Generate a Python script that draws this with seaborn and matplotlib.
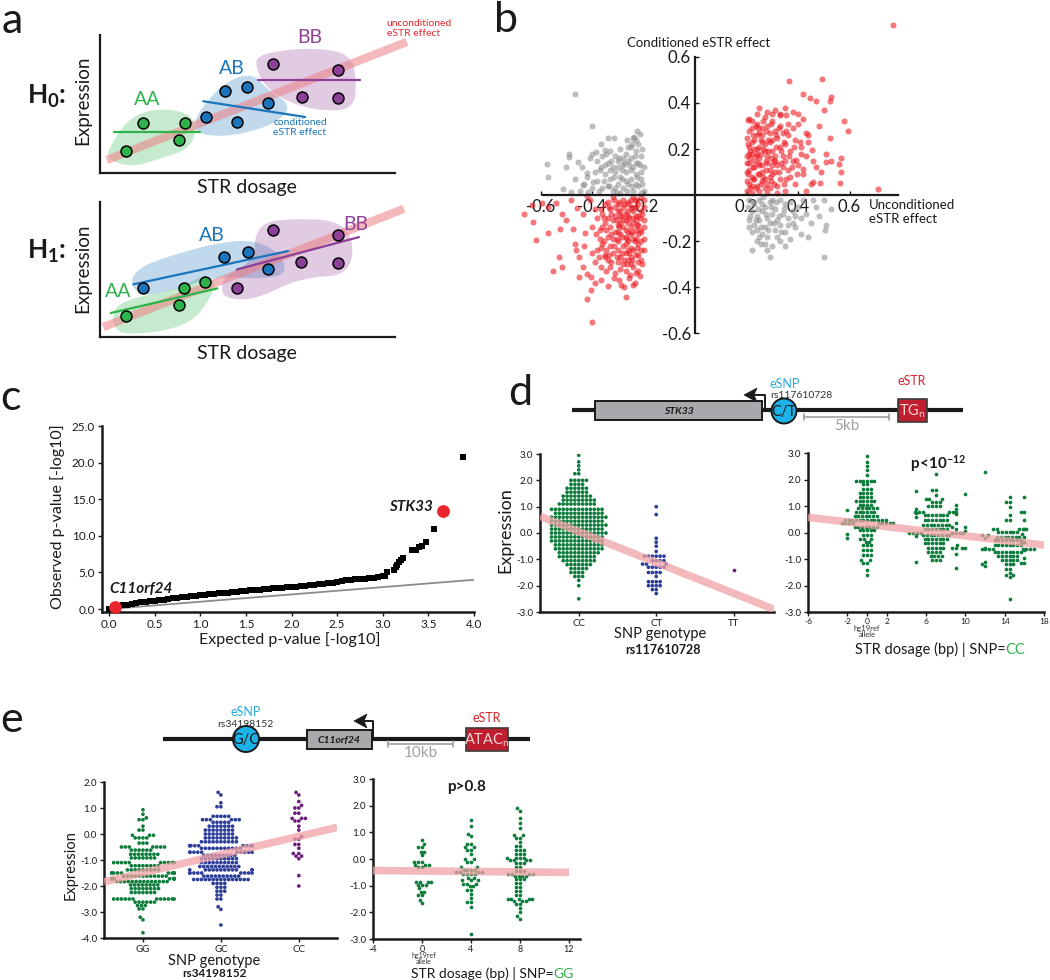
import warnings
warnings.filterwarnings("ignore")
import numpy as np
import pandas as pd
import matplotlib
matplotlib.use("Agg")
import matplotlib.pyplot as plt
import seaborn as sns
from matplotlib.patches import Polygon, Rectangle, Circle
from matplotlib.ticker import FormatStrFormatter
from matplotlib.offsetbox import TextArea, HPacker, AnnotationBbox

# ======================= DATA =======================
# ---- panel a (schematic, arbitrary 0-100 units) ----
h0_aa_x = [8.8, 14.7, 26.9, 28.8]; h0_aa_y = [16, 36, 24, 36]
h0_ab_x = [35.8, 42.4, 46.5, 49.9, 57.0]; h0_ab_y = [40.6, 59.4, 37.0, 62.3, 50.7]
h0_bb_x = [58.8, 68.4, 80.8, 80.8]; h0_bb_y = [79, 55, 74.6, 54]
h0_fit_aa = ([4.8, 33.9], [29.7, 29.7])
h0_fit_ab = ([35.0, 69.5], [52.0, 40.6])
h0_fit_bb = ([53.5, 88.0], [67.4, 67.4])
h0_fit_all = ([2.3, 104.0], [9.4, 95.0])

h1_aa_x = [8.8, 26.9, 28.5, 35.6]; h1_aa_y = [15.6, 23.7, 36.0, 40.7]
h1_ab_x = [14.7, 42.0, 50.0, 57.0]; h1_ab_y = [36.0, 59.0, 63.0, 50.0]
h1_bb_x = [46.5, 58.8, 68.0, 80.8, 80.8]; h1_bb_y = [36.0, 79.0, 55.6, 75.5, 54.8]
h1_fit_aa = ([3.7, 39.8], [17.8, 36.0])
h1_fit_ab = ([11.3, 63.8], [39.0, 63.7])
h1_fit_bb = ([46.4, 87.8], [50.0, 74.0])
h1_fit_all = ([1.1, 103.0], [7.4, 95.0])

# ---- panel b: unconditioned vs conditioned eSTR effect ----
b_red_right = [
    (0.21,0.33),(0.24,0.31),(0.27,0.34),(0.30,0.32),(0.33,0.35),(0.36,0.31),(0.22,0.29),(0.25,0.27),(0.28,0.30),(0.31,0.28),
    (0.34,0.27),(0.38,0.29),(0.20,0.25),(0.23,0.24),(0.26,0.26),(0.29,0.23),(0.32,0.25),(0.35,0.22),(0.39,0.24),(0.21,0.21),
    (0.24,0.20),(0.27,0.22),(0.30,0.19),(0.33,0.21),(0.37,0.19),(0.41,0.21),(0.20,0.17),(0.22,0.18),(0.25,0.16),(0.28,0.17),
    (0.31,0.15),(0.34,0.17),(0.38,0.15),(0.43,0.17),(0.21,0.14),(0.23,0.12),(0.26,0.13),(0.29,0.11),(0.32,0.13),(0.36,0.11),
    (0.40,0.13),(0.20,0.10),(0.22,0.08),(0.25,0.09),(0.27,0.07),(0.30,0.09),(0.33,0.07),(0.37,0.08),(0.21,0.05),(0.24,0.04),
    (0.26,0.06),(0.29,0.03),(0.32,0.04),(0.35,0.02),(0.39,0.05),(0.20,0.02),(0.22,0.01),(0.25,0.02),(0.28,0.01),(0.23,0.15),
    (0.24,0.26),(0.26,0.10),(0.22,0.23),(0.28,0.14),(0.21,0.11),(0.27,0.19),(0.23,0.07),(0.30,0.24),(0.25,0.21),(0.29,0.27),
    (0.22,0.32),(0.26,0.29),(0.31,0.17),(0.24,0.18),(0.20,0.14),(0.28,0.05),(0.34,0.12),(0.21,0.28),(0.27,0.03),(0.23,0.20),
    (0.25,0.13),(0.30,0.13),(0.22,0.04),(0.33,0.30),(0.26,0.23),(0.36,0.26),(0.40,0.31),(0.42,0.09),(0.45,0.05),(0.38,0.36),
    (0.31,0.37),(0.28,0.36),(0.35,0.38),(0.24,0.35),(0.21,0.18),(0.20,0.06),(0.29,0.08),(0.32,0.01),(0.35,0.15),(0.43,0.27),
    (0.47,0.12),(0.364,0.494),(0.494,0.503),(0.42,0.44),(0.445,0.42),(0.468,0.41),(0.53,0.426),(0.525,0.41),(0.50,0.37),
    (0.40,0.354),(0.25,0.38),(0.58,0.32),(0.596,0.28),(0.525,0.25),(0.455,0.195),(0.51,0.178),(0.565,0.16),(0.56,0.134),
    (0.527,0.15),(0.51,0.145),(0.568,0.10),(0.564,0.053),(0.49,0.10),(0.484,0.053),(0.71,0.026),(0.77,0.74),(0.44,0.26),
    (0.406,0.23),(0.43,0.02),(0.458,0.058),(0.42,0.115),(0.393,0.152),(0.354,0.347),(0.33,0.347),(0.30,0.354),(0.205,0.325),
    (0.205,0.09),(0.215,0.16),(0.225,0.26),(0.235,0.03),(0.245,0.14),(0.255,0.24),(0.265,0.08),(0.275,0.28),(0.285,0.19),
    (0.295,0.06),(0.305,0.15),(0.315,0.26),(0.325,0.10),(0.335,0.19),(0.345,0.05),(0.355,0.28),(0.365,0.17),(0.375,0.12),
    (0.385,0.21),(0.395,0.09),(0.205,0.22),(0.215,0.03),(0.225,0.12),(0.235,0.30),(0.245,0.09),(0.255,0.18),(0.265,0.32),
    (0.275,0.11),(0.285,0.24),(0.295,0.16),(0.305,0.05),(0.315,0.21),(0.325,0.29),(0.335,0.14),(0.345,0.23),(0.355,0.07),
    (0.215,0.19),(0.235,0.17),(0.255,0.05),(0.275,0.15),(0.295,0.31),(0.245,0.29),(0.265,0.20),(0.225,0.07),(0.31,0.10),
    (0.41,0.18),(0.44,0.23),(0.48,0.30),(0.46,0.15),(0.42,0.33),
]
b_grey_right = [
    (0.21,-0.02),(0.23,-0.04),(0.25,-0.02),(0.27,-0.05),(0.29,-0.03),(0.31,-0.06),(0.33,-0.02),(0.35,-0.04),(0.37,-0.03),(0.40,-0.05),
    (0.22,-0.07),(0.24,-0.09),(0.26,-0.07),(0.28,-0.10),(0.30,-0.08),(0.32,-0.11),(0.34,-0.08),(0.36,-0.10),(0.38,-0.07),(0.21,-0.11),
    (0.23,-0.13),(0.25,-0.11),(0.27,-0.14),(0.29,-0.12),(0.31,-0.15),(0.33,-0.13),(0.35,-0.16),(0.22,-0.16),(0.26,-0.17),(0.28,-0.18),
    (0.24,-0.15),(0.30,-0.02),(0.26,-0.04),(0.42,-0.02),(0.22,-0.24),(0.29,-0.27),(0.30,-0.22),(0.35,-0.22),(0.33,-0.20),(0.44,-0.18),
    (0.50,-0.27),(0.505,-0.15),(0.51,-0.13),(0.47,-0.05),(0.50,-0.02),(0.39,-0.14),(0.41,-0.10),(0.43,-0.08),(0.46,-0.02),(0.25,-0.18),
    (0.21,-0.14),(0.24,-0.20),(0.38,-0.12),(0.45,-0.12),(0.48,-0.09),(0.53,-0.06),(0.41,-0.17),(0.37,-0.19),(0.27,-0.21),
    (0.205,-0.05),(0.215,-0.09),(0.225,-0.03),(0.235,-0.11),(0.245,-0.06),(0.255,-0.14),(0.265,-0.01),(0.275,-0.08),
    (0.285,-0.15),(0.295,-0.05),(0.305,-0.12),(0.315,-0.03),(0.325,-0.09),(0.335,-0.16),(0.345,-0.06),(0.255,-0.21),
    (0.28,-0.24),(0.32,-0.18),(0.36,-0.13),(0.39,-0.09),
]
b_red_left = [
    (-0.20,-0.02),(-0.22,-0.04),(-0.24,-0.01),(-0.26,-0.03),(-0.28,-0.02),(-0.30,-0.04),(-0.32,-0.01),(-0.34,-0.03),(-0.21,-0.07),
    (-0.23,-0.09),(-0.25,-0.06),(-0.27,-0.08),(-0.29,-0.07),(-0.31,-0.09),(-0.33,-0.06),(-0.36,-0.08),(-0.20,-0.11),(-0.22,-0.13),
    (-0.24,-0.10),(-0.26,-0.12),(-0.28,-0.11),(-0.30,-0.13),(-0.32,-0.11),(-0.35,-0.12),(-0.38,-0.10),(-0.21,-0.16),(-0.23,-0.15),
    (-0.25,-0.17),(-0.27,-0.15),(-0.29,-0.17),(-0.31,-0.16),(-0.34,-0.18),(-0.37,-0.15),(-0.20,-0.19),(-0.22,-0.21),(-0.24,-0.19),
    (-0.26,-0.20),(-0.28,-0.22),(-0.30,-0.20),(-0.33,-0.22),(-0.36,-0.21),(-0.21,-0.24),(-0.23,-0.26),(-0.25,-0.23),(-0.27,-0.25),
    (-0.29,-0.27),(-0.32,-0.25),(-0.35,-0.26),(-0.22,-0.29),(-0.24,-0.31),(-0.26,-0.28),(-0.28,-0.30),(-0.30,-0.29),(-0.33,-0.31),
    (-0.23,-0.34),(-0.27,-0.33),(-0.31,-0.34),(-0.21,-0.01),(-0.23,-0.05),(-0.25,-0.14),(-0.27,-0.18),(-0.22,-0.17),(-0.24,-0.24),
    (-0.26,-0.09),(-0.29,-0.12),(-0.21,-0.20),(-0.23,-0.11),(-0.28,-0.05),(-0.30,-0.24),(-0.25,-0.02),(-0.20,-0.14),(-0.22,-0.26),
    (-0.26,-0.16),(-0.31,-0.05),(-0.33,-0.14),(-0.35,-0.04),(-0.37,-0.19),(-0.24,-0.07),(-0.27,-0.21),(-0.29,-0.09),(-0.20,-0.05),
    (-0.23,-0.19),(-0.25,-0.27),(-0.28,-0.14),(-0.32,-0.19),(-0.34,-0.10),(-0.21,-0.28),(-0.26,-0.24),(-0.30,-0.16),(-0.36,-0.14),
    (-0.39,-0.06),(-0.38,-0.24),(-0.40,-0.14),(-0.34,-0.28),(-0.29,-0.32),(-0.25,-0.30),(-0.22,-0.33),(-0.20,-0.24),(-0.41,-0.02),
    (-0.24,-0.12),(-0.27,-0.11),(-0.30,-0.07),(-0.22,-0.09),(-0.26,-0.04),
    (-0.665,-0.08),(-0.63,-0.116),(-0.616,-0.195),(-0.57,-0.163),(-0.55,-0.33),(-0.528,-0.267),(-0.515,-0.31),(-0.635,-0.043),
    (-0.596,-0.036),(-0.57,-0.05),(-0.54,-0.033),(-0.515,-0.08),(-0.50,-0.11),(-0.525,-0.145),(-0.476,-0.149),(-0.467,-0.21),
    (-0.463,-0.24),(-0.435,-0.31),(-0.42,-0.344),(-0.45,-0.354),(-0.406,-0.354),(-0.406,-0.41),(-0.42,-0.45),(-0.40,-0.55),
    (-0.387,-0.383),(-0.364,-0.368),(-0.338,-0.394),(-0.314,-0.36),(-0.286,-0.39),(-0.27,-0.44),(-0.254,-0.347),(-0.241,-0.39),
    (-0.48,-0.02),(-0.46,-0.058),(-0.435,-0.08),(-0.428,-0.166),(-0.40,-0.25),(-0.39,-0.29),(-0.364,-0.31),(-0.35,-0.267),(-0.42,-0.005),
    (-0.205,-0.08),(-0.215,-0.15),(-0.225,-0.23),(-0.235,-0.02),(-0.245,-0.16),(-0.255,-0.25),(-0.265,-0.07),(-0.275,-0.28),
    (-0.285,-0.18),(-0.295,-0.03),(-0.305,-0.11),(-0.315,-0.22),(-0.325,-0.08),(-0.335,-0.26),(-0.345,-0.15),(-0.355,-0.20),
    (-0.365,-0.06),(-0.375,-0.27),(-0.205,-0.30),(-0.215,-0.10),(-0.225,-0.02),(-0.235,-0.20),(-0.245,-0.28),(-0.255,-0.10),
    (-0.265,-0.19),(-0.275,-0.04),(-0.285,-0.25),(-0.295,-0.14),(-0.305,-0.27),(-0.315,-0.02),(-0.325,-0.17),(-0.335,-0.05),
    (-0.345,-0.24),(-0.355,-0.10),(-0.215,-0.35),(-0.235,-0.38),(-0.255,-0.36),(-0.275,-0.40),(-0.295,-0.37),(-0.225,-0.13),
    (-0.245,-0.05),(-0.265,-0.30),(-0.285,-0.09),(-0.305,-0.19),(-0.325,-0.29),(-0.345,-0.33),(-0.365,-0.23),(-0.385,-0.17),
    (-0.43,-0.22),(-0.45,-0.27),
]
b_grey_left = [
    (-0.20,0.02),(-0.22,0.04),(-0.24,0.02),(-0.26,0.05),(-0.28,0.03),(-0.30,0.05),(-0.32,0.02),(-0.34,0.04),(-0.36,0.03),(-0.21,0.07),
    (-0.23,0.09),(-0.25,0.07),(-0.27,0.10),(-0.29,0.08),(-0.31,0.10),(-0.33,0.07),(-0.35,0.09),(-0.38,0.06),(-0.20,0.12),(-0.22,0.14),
    (-0.24,0.12),(-0.26,0.15),(-0.28,0.13),(-0.30,0.15),(-0.32,0.12),(-0.34,0.14),(-0.37,0.11),(-0.21,0.17),(-0.23,0.19),(-0.25,0.16),
    (-0.27,0.18),(-0.29,0.20),(-0.31,0.17),(-0.33,0.19),(-0.22,0.22),(-0.26,0.21),(-0.24,0.25),(-0.21,0.01),(-0.25,0.11),(-0.29,0.01),
    (-0.33,0.11),(-0.23,0.05),(-0.27,0.06),(-0.31,0.03),(-0.35,0.13),(-0.39,0.10),(-0.40,0.03),(-0.21,0.10),(-0.28,0.16),(-0.36,0.17),
    (-0.42,0.08),(-0.44,0.12),(-0.38,0.15),(-0.30,0.12),(-0.23,0.14),
    (-0.466,0.44),(-0.40,0.30),(-0.574,0.137),(-0.57,0.077),(-0.49,0.18),(-0.49,0.166),(-0.50,0.12),(-0.454,0.145),(-0.467,0.072),
    (-0.512,0.025),(-0.48,0.014),(-0.40,0.18),(-0.383,0.188),(-0.364,0.224),(-0.34,0.246),(-0.314,0.246),(-0.237,0.253),(-0.212,0.264),
    (-0.228,0.238),(-0.247,0.21),(-0.35,0.195),(-0.42,0.094),(-0.396,0.058),(-0.448,0.02),(-0.415,0.014),(-0.435,0.043),
    (-0.205,0.05),(-0.215,0.13),(-0.225,0.08),(-0.235,0.17),(-0.245,0.04),(-0.255,0.13),(-0.265,0.02),(-0.275,0.14),
    (-0.285,0.07),(-0.295,0.16),(-0.305,0.01),(-0.315,0.08),(-0.325,0.15),(-0.335,0.04),(-0.345,0.18),(-0.355,0.06),
    (-0.365,0.12),(-0.375,0.02),(-0.205,0.20),(-0.225,0.28),(-0.245,0.22),(-0.265,0.24),(-0.285,0.11),(-0.41,0.16),(-0.43,0.05),
]

# ---- panel c: QQ plot ----
qq_expected = [0.00,0.05,0.10,0.15,0.20,0.25,0.30,0.35,0.40,0.45,0.50,0.55,0.60,0.65,0.70,0.75,0.80,0.85,0.90,0.95,
               1.00,1.05,1.10,1.15,1.20,1.25,1.30,1.35,1.40,1.45,1.50,1.55,1.60,1.65,1.70,1.75,1.80,1.85,1.90,1.95,
               2.00,2.05,2.10,2.15,2.20,2.25,2.30,2.35,2.40,2.45,2.50,2.55,2.60,2.65,2.70,2.75,2.80,2.85,2.90,2.95,
               3.00,3.03,3.05,3.12,3.14,3.16,3.18,3.20,3.22,3.32,3.36,3.40,3.43,3.47,3.56,3.88]
qq_observed = [0.05,0.25,0.40,0.52,0.62,0.72,0.82,0.92,1.00,1.08,1.15,1.22,1.30,1.38,1.45,1.52,1.60,1.67,1.75,1.82,
               1.90,1.96,2.02,2.08,2.14,2.20,2.26,2.32,2.38,2.44,2.50,2.56,2.62,2.67,2.72,2.77,2.82,2.87,2.92,2.97,
               3.02,3.07,3.13,3.19,3.25,3.32,3.39,3.46,3.53,3.62,3.72,3.82,3.92,4.00,4.05,4.10,4.15,4.22,4.30,4.38,
               4.45,4.50,5.00,5.40,5.70,6.05,6.40,6.70,7.00,8.00,8.00,8.50,8.60,9.20,10.90,20.70]
qq_highlight_genes = ["C11orf24", "STK33"]
qq_highlight_exp = [0.07, 3.66]
qq_highlight_obs = [0.30, 13.4]

# ---- panel d: STK33 ----
d_genotypes = ["CC", "CT", "TT"]
d_cc_levels = [2.95,2.7,2.55,2.4,2.25,2.0,1.85,1.7,1.55,1.4,1.25,1.1,0.9,0.75,0.6,0.45,0.3,0.15,0.0,-0.15,
               -0.3,-0.45,-0.6,-0.75,-0.9,-1.05,-1.2,-1.35,-1.5,-1.65,-1.8,-2.0,-2.5]
d_cc_counts = [1,1,1,1,2,5,4,6,6,8,9,10,14,13,15,14,15,14,15,14,14,13,13,11,10,9,7,5,4,3,1,1,1]
d_ct_levels = [1.0,0.7,-0.2,-0.35,-0.5,-0.7,-0.88,-1.05,-1.18,-1.3,-1.5,-1.65,-1.85,-2.0,-2.15,-2.3]
d_ct_counts = [1,1,1,1,1,1,6,4,3,5,4,1,4,4,2,1]
d_tt_levels = [-1.4]
d_tt_counts = [1]
d_snp_fit = [0.05, -1.17]          # intercept at CC, slope per genotype step

d_str_groups = [-2, 0, 5, 7, 9, 10, 12, 14.5, 16]
d_str_levels = [
    [0.85, -0.07, -0.22],
    [2.9,2.65,2.5,2.35,2.18,1.96,1.82,1.63,1.48,1.33,1.19,1.04,0.91,0.78,0.62,0.49,0.34,0.22,0.09,-0.08,
     -0.23,-0.35,-0.48,-0.65,-0.86,-1.05,-1.15,-1.4,-1.6],
    [1.55, 0.9, 0.75, 0.6, -0.15, -1.1],
    [2.2,1.62,1.42,1.25,1.16,1.0,0.78,0.66,0.49,0.28,0.15,-0.01,-0.1,-0.23,-0.39,-0.57,-0.73,-0.9,-1.03],
    [1.05,0.9,0.7,0.37,0.19,0.15,-0.48,-0.6,-0.8,-1.35],
    [1.44, 0.19, 0.05, -0.57],
    [2.3, -0.1, -0.2, -0.6, -1.1, -1.2, -1.25],
    [1.35,1.16,0.97,0.66,0.47,0.15,0.03,-0.16,-0.29,-0.48,-0.61,-0.73,-0.9,-1.05,-1.2,-1.37,-1.53,-1.62,-1.68,-2.5],
    [1.35,0.78,0.47,0.15,-0.04,-0.16,-0.35,-0.67,-0.97,-1.14],
]
d_str_counts = [
    [1,1,1],
    [1,1,1,1,1,6,2,3,4,4,6,4,6,6,7,12,9,7,5,3,3,2,3,3,3,2,2,1,1],
    [1,1,1,1,1,1],
    [1,2,1,3,3,4,6,7,7,8,7,8,8,7,6,5,4,4,3],
    [1,1,1,1,1,1,1,2,1,1],
    [1,1,1,2],
    [1,2,1,1,1,1,1],
    [1,2,1,1,2,5,6,7,8,8,8,8,6,5,3,2,1,2,1,1],
    [1,2,1,1,1,1,2,1,1,2],
]
d_str_fit = [0.31, -0.0437]        # intercept at 0 bp, slope per bp
d_str_ticks = [-6, -2, 0, 2, 6, 10, 14, 18]

# ---- panel e: C11orf24 ----
e_genotypes = ["GG", "GC", "CC"]
e_gg_levels = [0.93,0.76,0.62,0.55,0.3,0.15,-0.05,-0.15,-0.35,-0.5,-0.62,-0.78,-0.92,-1.1,-1.22,-1.38,-1.5,-1.62,
               -1.72,-1.83,-1.96,-2.1,-2.25,-2.5,-2.62,-2.75,-2.88,-3.2,-3.3,-3.8]
e_gg_counts = [1,1,1,2,1,2,3,4,3,7,6,8,7,10,8,9,10,12,12,14,8,8,7,12,6,3,2,1,1,1]
e_gc_levels = [1.6,1.5,1.2,1.05,0.68,0.55,0.45,0.3,0.15,0.0,-0.15,-0.3,-0.45,-0.55,-0.7,-0.82,-0.95,-1.1,-1.25,
               -1.38,-1.5,-1.62,-1.75,-1.9,-2.05,-2.2,-2.35,-2.5,-2.8,-2.9,-3.5]
e_gc_counts = [1,1,1,2,5,6,5,7,8,8,9,10,10,11,10,9,10,10,11,12,9,10,15,4,3,3,2,2,1,1,1]
e_cc_levels = [1.6,1.5,1.25,1.1,1.0,0.8,0.6,0.5,0.3,0.15,-0.1,-0.2,-0.4,-0.55,-0.75,-0.85,-0.95,-1.6,-2.0]
e_cc_counts = [1,1,1,1,2,2,3,2,1,1,1,2,2,1,2,2,1,1,1]
e_snp_fit = [-1.49, 0.70]

e_str_groups = [0, 4, 8]
e_str_levels = [
    [0.71,0.56,0.44,0.28,0.15,-0.1,-0.22,-0.31,-0.85,-0.97,-1.1,-1.22,-1.35,-1.54,-1.66],
    [1.45,1.25,0.95,0.85,0.55,0.45,0.35,0.2,0.0,-0.1,-0.3,-0.4,-0.5,-0.58,-0.7,-0.8,-0.92,-1.02,-1.15,-1.3,
     -1.45,-1.6,-1.8,-2.8],
    [1.9,1.8,1.55,1.35,1.15,0.9,0.8,0.65,0.5,0.35,0.2,0.05,-0.05,-0.15,-0.3,-0.45,-0.55,-0.62,-0.75,-0.9,
     -1.05,-1.2,-1.35,-1.5,-1.58,-1.7,-1.85,-2.0,-2.15,-2.25],
]
e_str_counts = [
    [1,1,2,2,1,3,3,2,4,3,1,2,2,1,1],
    [1,1,1,1,2,2,2,1,2,2,2,4,4,4,2,3,3,2,2,1,1,2,1,1],
    [1,1,1,1,1,2,2,1,2,3,3,4,4,3,2,3,4,4,3,2,2,2,2,5,3,2,1,1,1,1],
]
e_str_fit = [-0.45, -0.0044]
e_str_fit_range = [-4, 12]
e_str_ticks = [-4, 0, 4, 8, 12]

# ======================= STYLE =======================
sns.set_theme(style="white")
plt.rcParams["font.family"] = ["Lato", "DejaVu Sans"]
plt.rcParams["axes.unicode_minus"] = False
plt.rcParams["mathtext.fontset"] = "custom"
plt.rcParams["mathtext.rm"] = "Lato"
plt.rcParams["mathtext.bf"] = "Lato:bold"
plt.rcParams["mathtext.it"] = "Lato:italic"

W, H = 1050, 980
fig = plt.figure(figsize=(W / 100, H / 100), dpi=100)
fig.patch.set_facecolor("white")

A_GREEN, A_BLUE, A_PURPLE, A_RED = "#2eb34b", "#1b75bc", "#8e3f98", "#ee7f83"
G_DOT, B_DOT, P_DOT = "#0e7d3b", "#2c3e98", "#6c1f7a"
FIT = "#f0a2a6"
INK = "#1a1a1a"


def px_axes(l, t, r, b):
    return fig.add_axes([l / W, 1 - b / H, (r - l) / W, (b - t) / H])


def ftext(x, y, s, **kw):
    return fig.text(x / W, 1 - y / H, s, **kw)


def chaikin(pts, n=4):
    P = np.asarray(pts, float)
    for _ in range(n):
        nxt = np.roll(P, -1, axis=0)
        Q = 0.75 * P + 0.25 * nxt
        R = 0.25 * P + 0.75 * nxt
        P = np.empty((2 * len(P), 2))
        P[0::2] = Q
        P[1::2] = R
    return P


def expand(levels, counts):
    return np.repeat(np.asarray(levels, float), np.asarray(counts, int))


def swarm_positions(ax, center, vals, dot_px):
    bb = ax.get_window_extent()
    x0, x1 = ax.get_xlim(); y0, y1 = ax.get_ylim()
    sx = bb.width / (x1 - x0); sy = bb.height / (y1 - y0)
    order = np.argsort(vals, kind="stable")
    placed = []
    out = np.zeros(len(vals))
    d = dot_px
    for i in order:
        y = vals[i] * sy
        neigh = [(px, py) for px, py in placed if abs(py - y) < d]
        cands = [0.0]
        for px, py in neigh:
            h = np.sqrt(max(d * d - (py - y) ** 2, 0))
            cands += [px + h, px - h]
        cands.sort(key=lambda c: (abs(c), c))
        chosen = cands[-1]
        for c in cands:
            if all((c - px) ** 2 + (y - py) ** 2 >= d * d - 1e-6 for px, py in neigh):
                chosen = c
                break
        placed.append((chosen, y))
        out[i] = center + chosen / sx
    return out


def two_color(ax, x, y, parts, fs):
    areas = [TextArea(s, textprops=dict(color=c, fontsize=fs)) for s, c in parts]
    box = HPacker(children=areas, align="baseline", pad=0, sep=0)
    ab = AnnotationBbox(box, (x / W, 1 - y / H), xycoords="figure fraction",
                        frameon=False, box_alignment=(0.5, 0.5), annotation_clip=False)
    ax.add_artist(ab)


def style_axes(ax, lw=1.8):
    sns.despine(ax=ax)
    for s in ("left", "bottom"):
        ax.spines[s].set_color(INK)
        ax.spines[s].set_linewidth(lw)


# ======================= PANEL A =======================
blob_h0 = {
    "AA": [(2, 10), (4, 22), (10, 40), (19, 47), (30, 44), (33, 32), (30, 17), (21, 11), (11, 4)],
    "AB": [(31, 34), (36, 52), (44, 68), (52, 72), (57, 60), (65, 49), (60, 36), (46, 27), (35, 27)],
    "BB": [(53, 86), (70, 91), (85, 87), (87, 67), (86, 46), (74, 45), (63, 52), (56, 63), (53, 75)],
}
blob_h1 = {
    "AA": [(5, 2), (4, 22), (13, 30), (27, 36), (35, 46), (40, 41), (35, 20), (29, 9), (18, 3)],
    "AB": [(10, 40), (13, 51), (22, 59), (40, 70), (53, 72), (62, 60), (63, 46), (54, 43), (40, 45), (25, 35), (14, 30)],
    "BB": [(41, 33), (42, 45), (52, 56), (53, 82), (62, 88), (85, 86), (86, 46), (68, 44), (53, 28), (44, 28)],
}
a_cols = {"AA": A_GREEN, "AB": A_BLUE, "BB": A_PURPLE}


def draw_a(ax, pts, fits, fit_all, blobs, labels):
    ax.set_xlim(0, 100); ax.set_ylim(0, 100)
    style_axes(ax, 1.6)
    ax.set_xticks([]); ax.set_yticks([])
    ax.patch.set_alpha(0)
    for g in ("AA", "AB", "BB"):
        ax.add_patch(Polygon(chaikin(blobs[g]), closed=True, fc=a_cols[g], ec="none", alpha=0.27, zorder=1))
    ax.plot(fit_all[0], fit_all[1], color=A_RED, lw=6, alpha=0.55, solid_capstyle="butt", clip_on=False, zorder=2)
    for g in ("AA", "AB", "BB"):
        ax.plot(fits[g][0], fits[g][1], color=a_cols[g], lw=1.6, zorder=3)
        sns.scatterplot(x=pts[g][0], y=pts[g][1], color=a_cols[g], s=62, edgecolor="black",
                        linewidth=1.1, zorder=4, ax=ax, legend=False)
    for g, (lx, ly) in labels.items():
        ax.text(lx, ly, g, color=a_cols[g], fontsize=14, ha="center", va="center")


ax_h0 = px_axes(100, 35, 395, 173)
draw_a(ax_h0,
       {"AA": (h0_aa_x, h0_aa_y), "AB": (h0_ab_x, h0_ab_y), "BB": (h0_bb_x, h0_bb_y)},
       {"AA": h0_fit_aa, "AB": h0_fit_ab, "BB": h0_fit_bb}, h0_fit_all, blob_h0,
       {"AA": (16.1, 53), "AB": (44.6, 76), "BB": (71.2, 98.5)})
ax_h0.text(58.8, 33, "conditioned\neSTR effect", color=A_BLUE, fontsize=7.5, ha="left", va="center",
           linespacing=1.1)
ax_h0.text(97.2, 104.5, "unconditioned\neSTR effect", color="#e8262c", fontsize=7.5, ha="left",
           va="center", linespacing=1.1, clip_on=False)

ax_h1 = px_axes(100, 202, 395, 337)
draw_a(ax_h1,
       {"AA": (h1_aa_x, h1_aa_y), "AB": (h1_ab_x, h1_ab_y), "BB": (h1_bb_x, h1_bb_y)},
       {"AA": h1_fit_aa, "AB": h1_fit_ab, "BB": h1_fit_bb}, h1_fit_all, blob_h1,
       {"AA": (6.1, 33.5), "AB": (37.9, 75.5), "BB": (86.7, 83)})

for yc in (100, 268):
    ftext(83, yc, "Expression", rotation=90, fontsize=13.5, ha="center", va="center", color=INK)
ftext(247, 188, "STR dosage", fontsize=14, ha="center", va="center", color=INK)
ftext(247, 353, "STR dosage", fontsize=14, ha="center", va="center", color=INK)
ftext(27, 104, r"$\mathbf{H_0}$:", fontsize=19, fontweight="bold", va="baseline", color=INK)
ftext(27, 259, r"$\mathbf{H_1}$:", fontsize=19, fontweight="bold", va="baseline", color=INK)

# ======================= PANEL B =======================
axb = px_axes(520, 20, 901, 338)
axb.set_xlim(-0.68, 0.80); axb.set_ylim(-0.62, 0.76)
axb.patch.set_alpha(0)
for s in ("top", "right"):
    axb.spines[s].set_visible(False)
for s in ("left", "bottom"):
    axb.spines[s].set_position(("data", 0))
    axb.spines[s].set_color(INK)
    axb.spines[s].set_linewidth(1.6)
axb.spines["left"].set_bounds(-0.6, 0.6)
axb.spines["bottom"].set_bounds(-0.59, 0.79)
for pts, col, al in ((b_grey_left, "#8a8a8a", 0.55), (b_grey_right, "#8a8a8a", 0.55),
                     (b_red_left, "#ec1c24", 0.6), (b_red_right, "#ec1c24", 0.6)):
    arr = np.asarray(pts)
    sns.scatterplot(x=arr[:, 0], y=arr[:, 1], color=col, alpha=al, s=19, linewidth=0, ax=axb, legend=False)
axb.set_xticks([-0.6, -0.4, -0.2, 0.2, 0.4, 0.6])
axb.set_yticks([-0.6, -0.4, -0.2, 0.2, 0.4, 0.6])
axb.xaxis.set_major_formatter(FormatStrFormatter("%.1f"))
axb.yaxis.set_major_formatter(FormatStrFormatter("%.1f"))
axb.tick_params(axis="both", labelsize=12, length=3, width=1, direction="in", colors=INK,
                bottom=True, left=True, pad=3)
ftext(699, 43, "Conditioned eSTR effect", fontsize=9.5, ha="center", va="center", color=INK)
ftext(869, 212, "Unconditioned\neSTR effect", fontsize=9.5, ha="left", va="center", color=INK,
      linespacing=1.2)

# ======================= PANEL C =======================
axc = px_axes(102, 426, 474, 612)
axc.set_xlim(-0.077, 4.0); axc.set_ylim(-0.4, 25.0)
style_axes(axc, 1.8)
axc.plot([0, 4], [0, 4], color="#8c8c8c", lw=1.3, zorder=1)
sns.scatterplot(x=qq_expected, y=qq_observed, marker="s", color="black", s=24, linewidth=0,
                ax=axc, zorder=3, legend=False)
sns.scatterplot(x=qq_highlight_exp, y=qq_highlight_obs, marker="o", color="#e8262c", s=85,
                linewidth=0, ax=axc, zorder=4, legend=False, clip_on=False)
axc.annotate(qq_highlight_genes[0], (qq_highlight_exp[0], qq_highlight_obs[0]), xytext=(-6, 14),
             textcoords="offset pixels", fontsize=11, fontweight="bold", fontstyle="italic",
             ha="left", va="baseline", color=INK)
axc.annotate(qq_highlight_genes[1], (qq_highlight_exp[1], qq_highlight_obs[1]), xytext=(-10, 4),
             textcoords="offset pixels", fontsize=11, fontweight="bold", fontstyle="italic",
             ha="right", va="center", color=INK)
axc.set_xticks(np.arange(0, 4.01, 0.5))
axc.set_yticks(np.arange(0, 25.1, 5))
axc.xaxis.set_major_formatter(FormatStrFormatter("%.1f"))
axc.yaxis.set_major_formatter(FormatStrFormatter("%.1f"))
axc.tick_params(axis="both", labelsize=8.5, length=3, width=1, direction="out", colors=INK,
                bottom=True, left=True, pad=2)
ftext(290, 640, "Expected p-value [-log10]", fontsize=11.5, ha="center", va="center", color=INK)
ftext(58, 517, "Observed p-value [-log10]", fontsize=11.5, rotation=90, ha="center", va="center",
      color=INK)

# ======================= PANEL D =======================
dot_px = 3.7
dot_pt = dot_px * 0.72

axd1 = px_axes(540, 454, 774, 612)
df_d = pd.DataFrame({
    "genotype": ["CC"] * int(np.sum(d_cc_counts)) + ["CT"] * int(np.sum(d_ct_counts)) + ["TT"] * int(np.sum(d_tt_counts)),
    "expression": np.concatenate([expand(d_cc_levels, d_cc_counts), expand(d_ct_levels, d_ct_counts),
                                  expand(d_tt_levels, d_tt_counts)]),
})
sns.swarmplot(data=df_d, x="genotype", y="expression", hue="genotype", order=d_genotypes,
              palette={"CC": G_DOT, "CT": B_DOT, "TT": P_DOT}, size=dot_pt, linewidth=0,
              legend=False, ax=axd1, warn_thresh=1.0)
axd1.set_xlim(-0.5, 2.52); axd1.set_ylim(-3, 3)
fx = np.array(axd1.get_xlim())
axd1.plot(fx, d_snp_fit[0] + d_snp_fit[1] * fx, color=FIT, lw=5.5, alpha=0.75,
          solid_capstyle="butt", zorder=5)
style_axes(axd1)
axd1.set_xlabel(""); axd1.set_ylabel("")
axd1.set_yticks(np.arange(-3, 3.01, 1))
axd1.yaxis.set_major_formatter(FormatStrFormatter("%.1f"))
axd1.tick_params(axis="both", labelsize=7, length=3, width=1, direction="out", colors=INK,
                 bottom=True, left=True, pad=2)

axd2 = px_axes(808, 453, 1044, 612)
axd2.set_xlim(-6, 18); axd2.set_ylim(-3, 3)
for gx, lv, ct in zip(d_str_groups, d_str_levels, d_str_counts):
    vals = expand(lv, ct)
    xs = swarm_positions(axd2, gx, vals, dot_px)
    sns.scatterplot(x=xs, y=vals, color=G_DOT, s=dot_pt ** 2, linewidth=0, ax=axd2, legend=False, zorder=3)
fx = np.array([-6, 18])
axd2.plot(fx, d_str_fit[0] + d_str_fit[1] * fx, color=FIT, lw=5.5, alpha=0.75,
          solid_capstyle="butt", zorder=5)
style_axes(axd2)
axd2.set_xticks(d_str_ticks)
axd2.set_yticks(np.arange(-3, 3.01, 1))
axd2.yaxis.set_major_formatter(FormatStrFormatter("%.1f"))
axd2.tick_params(axis="y", labelsize=7, length=3, width=1, direction="out", colors=INK, left=True, pad=2)
axd2.tick_params(axis="x", labelsize=6, length=3, width=1, direction="out", colors=INK, bottom=True, pad=1)
axd2.annotate("hg19ref\nallele", (0, 0), xycoords=("data", "axes fraction"), xytext=(0, -13),
              textcoords="offset pixels", fontsize=5.5, ha="center", va="top", linespacing=0.8,
              color="#333333")
axd2.text(7.2, 2.6, r"$\mathbf{p\!<\!10^{-12}}$", fontsize=11, ha="center", va="center", color=INK)

ftext(505, 530, "Expression", rotation=90, fontsize=13, ha="center", va="center", color=INK)
ftext(660, 634, "SNP genotype", fontsize=10.5, ha="center", va="center", color=INK)
ftext(663, 650, "rs117610728", fontsize=9, fontweight="bold", ha="center", va="center", color=INK)
two_color(axd2, 940, 649, [("STR dosage (bp) | SNP=", INK), ("CC", "#2eb34b")], 10.5)

# ======================= PANEL E =======================
axe1 = px_axes(104, 782, 337, 938)
df_e = pd.DataFrame({
    "genotype": ["GG"] * int(np.sum(e_gg_counts)) + ["GC"] * int(np.sum(e_gc_counts)) + ["CC"] * int(np.sum(e_cc_counts)),
    "expression": np.concatenate([expand(e_gg_levels, e_gg_counts), expand(e_gc_levels, e_gc_counts),
                                  expand(e_cc_levels, e_cc_counts)]),
})
sns.swarmplot(data=df_e, x="genotype", y="expression", hue="genotype", order=e_genotypes,
              palette={"GG": G_DOT, "GC": B_DOT, "CC": P_DOT}, size=dot_pt, linewidth=0,
              legend=False, ax=axe1, warn_thresh=1.0)
axe1.set_xlim(-0.5, 2.49); axe1.set_ylim(-4, 2)
fx = np.array(axe1.get_xlim())
axe1.plot(fx, e_snp_fit[0] + e_snp_fit[1] * fx, color=FIT, lw=5.5, alpha=0.75,
          solid_capstyle="butt", zorder=5)
style_axes(axe1)
axe1.set_xlabel(""); axe1.set_ylabel("")
axe1.set_yticks(np.arange(-4, 2.01, 1))
axe1.yaxis.set_major_formatter(FormatStrFormatter("%.1f"))
axe1.tick_params(axis="both", labelsize=7, length=3, width=1, direction="out", colors=INK,
                 bottom=True, left=True, pad=2)

axe2 = px_axes(373, 779, 580, 939)
axe2.set_xlim(-4, 12.9); axe2.set_ylim(-3, 3)
for gx, lv, ct in zip(e_str_groups, e_str_levels, e_str_counts):
    vals = expand(lv, ct)
    xs = swarm_positions(axe2, gx, vals, dot_px)
    sns.scatterplot(x=xs, y=vals, color=G_DOT, s=dot_pt ** 2, linewidth=0, ax=axe2, legend=False, zorder=3)
fx = np.array(e_str_fit_range)
axe2.plot(fx, e_str_fit[0] + e_str_fit[1] * fx, color=FIT, lw=5.5, alpha=0.75,
          solid_capstyle="butt", zorder=5)
style_axes(axe2)
axe2.set_xticks(e_str_ticks)
axe2.set_yticks(np.arange(-3, 3.01, 1))
axe2.yaxis.set_major_formatter(FormatStrFormatter("%.1f"))
axe2.tick_params(axis="y", labelsize=7, length=3, width=1, direction="out", colors=INK, left=True, pad=2)
axe2.tick_params(axis="x", labelsize=6.5, length=3, width=1, direction="out", colors=INK, bottom=True, pad=1)
axe2.annotate("hg19ref\nallele", (0, 0), xycoords=("data", "axes fraction"), xytext=(2, -13),
              textcoords="offset pixels", fontsize=5, ha="center", va="top", linespacing=0.75,
              color="#333333")
axe2.text(3.6, 2.7, "p>0.8", fontsize=11, fontweight="bold", ha="center", va="center", color=INK)

ftext(71, 865, "Expression", rotation=90, fontsize=10.5, ha="center", va="center", color=INK)
ftext(214, 961, "SNP genotype", fontsize=10.5, ha="center", va="center", color=INK)
ftext(214, 973, "rs34198152", fontsize=8.5, fontweight="bold", ha="center", va="center", color=INK)
two_color(axe2, 492, 973, [("STR dosage (bp) | SNP=", INK), ("GG", "#2eb34b")], 10)

# ======================= GENE SCHEMATICS (pixel-space overlay) =======================
ov = fig.add_axes([0, 0, 1, 1], zorder=-1)
ov.set_xlim(0, W); ov.set_ylim(H, 0); ov.axis("off")
SNP_BLUE, STR_RED = "#1cb2ea", "#be1e2d"


def schematic(track, gene_box, gene_name, prom, snp_c, snp_txt, snp_lab_xy, snp_id, bar, bar_txt,
              str_box, str_txt, str_lab_xy):
    ov.plot([track[0], track[1]], [track[2], track[2]], color=INK, lw=3, solid_capstyle="butt", zorder=1)
    gx0, gy0, gx1, gy1 = gene_box
    ov.add_patch(Rectangle((gx0, gy0), gx1 - gx0, gy1 - gy0, fc="#a7a9ac", ec=INK, lw=1.4, zorder=2))
    ov.text((gx0 + gx1) / 2, (gy0 + gy1) / 2 + 0.5, gene_name, fontsize=7.5, fontweight="bold",
            fontstyle="italic", ha="center", va="center", color=INK, zorder=3)
    sx, sy_bot, sy_top, tip = prom
    ov.plot([sx, sx, tip + 8], [sy_bot, sy_top, sy_top], color=INK, lw=1.4, zorder=3)
    ov.add_patch(Polygon([(tip, sy_top), (tip + 13, sy_top - 7), (tip + 10, sy_top), (tip + 13, sy_top + 7)],
                         closed=True, fc=INK, ec=INK, lw=0.5, zorder=3))
    cx, cy, r = snp_c
    ov.add_patch(Circle((cx, cy), r, fc=SNP_BLUE, ec=INK, lw=1.4, zorder=4))
    ov.text(cx, cy + 0.5, snp_txt, fontsize=10.5, ha="center", va="center", color=INK, zorder=5)
    (ex, ey, eha), (rx, ry, rha) = snp_lab_xy
    ov.text(ex, ey, "eSNP", fontsize=9, ha=eha, va="center", color="#27aae1")
    ov.text(rx, ry, snp_id, fontsize=7.5, ha=rha, va="center", color="#333333")
    bx0, bx1, by = bar
    ov.plot([bx0, bx1], [by, by], color="#a0a0a0", lw=1.2)
    ov.plot([bx0, bx0], [by - 3, by + 3], color="#a0a0a0", lw=1.2)
    ov.plot([bx1, bx1], [by - 3, by + 3], color="#a0a0a0", lw=1.2)
    ov.text((bx0 + bx1) / 2, by + 9, bar_txt, fontsize=11, ha="center", va="center", color="#a0a0a0")
    tx0, ty0, tx1, ty1 = str_box
    ov.add_patch(Rectangle((tx0, ty0), tx1 - tx0, ty1 - ty0, fc=STR_RED, ec="#3a3a3a", lw=1.2, zorder=2))
    ov.text((tx0 + tx1) / 2, (ty0 + ty1) / 2 + 0.5, str_txt, fontsize=10.5, ha="center", va="center",
            color="#f6d5d5", zorder=3)
    ov.text(str_lab_xy[0], str_lab_xy[1], "eSTR", fontsize=9, ha="center", va="center", color="#d2232a")


schematic((572, 963, 410), (595, 401, 762, 420), "STK33", (765, 410, 395, 744),
          (784, 411, 12.5), "C/T", ((770, 384, "left"), (770, 395, "left")), "rs117610728",
          (804, 889, 417), "5kb", (898, 399, 927, 422), r"TG$_\mathrm{n}$", (912, 381))
schematic((163, 530, 739), (307, 730, 372, 749), "C11orf24", (373, 739, 721, 354),
          (246, 739, 13), "G/C", ((246, 712, "center"), (245, 724, "center")), "rs34198152",
          (388, 453, 744), "10kb", (466, 728, 508, 751), r"ATAC$_\mathrm{n}$", (487, 718))

# ======================= PANEL LETTERS =======================
for lbl, x, y in (("a", 2, 33), ("b", 494, 32), ("c", 0, 410), ("d", 508, 405), ("e", 0, 732)):
    ftext(x, y, lbl, fontsize=31, va="baseline", ha="left", color=INK)

fig.savefig("out.png", dpi=100, facecolor="white")
